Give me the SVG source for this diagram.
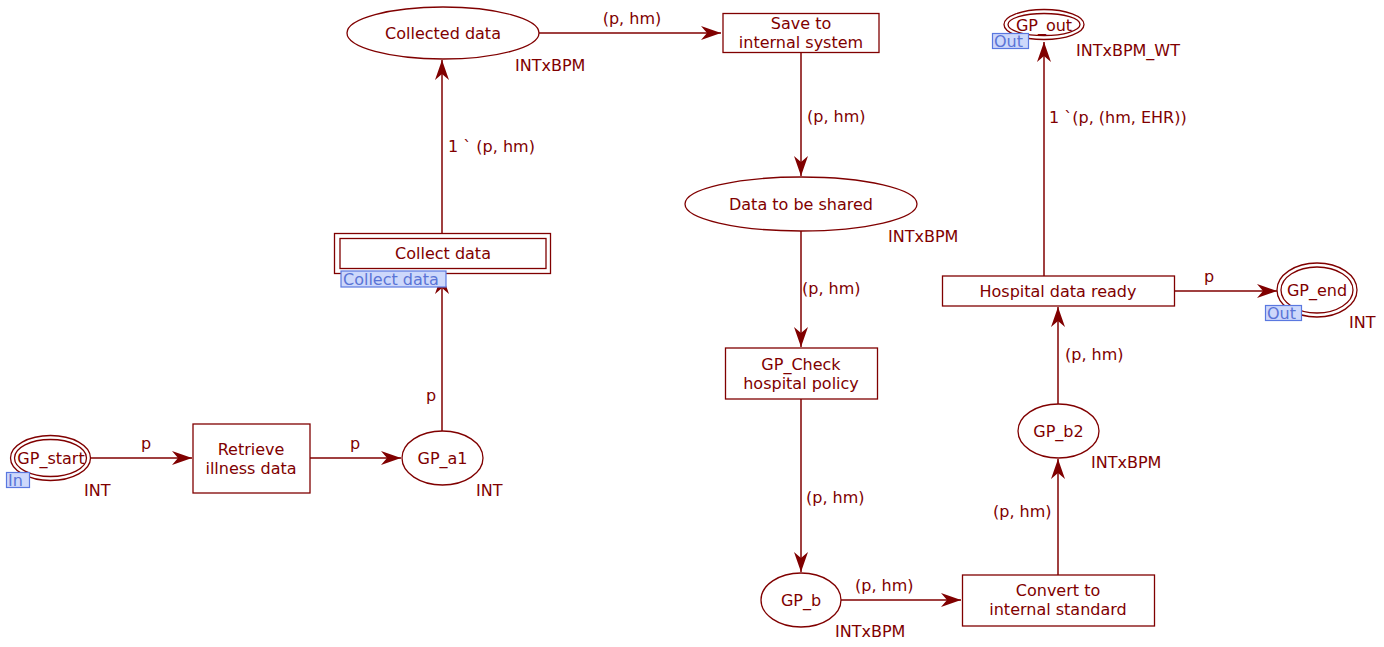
<svg xmlns="http://www.w3.org/2000/svg" width="1384" height="647" viewBox="0 0 1384 647">
<style>
text{font-family:"DejaVu Sans","Liberation Sans",sans-serif;font-size:16px;fill:#800000}
.c{text-anchor:middle}
.n{fill:#fff;stroke:#800000;stroke-width:1.3}
.a{fill:none;stroke:#800000;stroke-width:1.5}
.tag{fill:#cdd8fb;stroke:#5a78e0;stroke-width:1.2}
.tt{fill:#5a74d6}
</style>
<defs>
<marker id="ah" markerUnits="userSpaceOnUse" markerWidth="22" markerHeight="16" viewBox="0 -8 22 16" refX="20" refY="0" orient="auto">
<path d="M0,-7 L20,0 L0,7 L6,0 z" fill="#800000"/>
</marker>
</defs>
<rect width="1384" height="647" fill="#fff"/>
<g id="connectors">
<line class="a" x1="91" y1="458" x2="192" y2="458" marker-end="url(#ah)"/>
<text class="c" x="146" y="449">p</text>
<line class="a" x1="310" y1="458" x2="401" y2="458" marker-end="url(#ah)"/>
<text class="c" x="355" y="449">p</text>
<line class="a" x1="442" y1="431" x2="442" y2="274" marker-end="url(#ah)"/>
<text class="c" x="431" y="401">p</text>
<line class="a" x1="442" y1="233" x2="442" y2="60" marker-end="url(#ah)"/>
<text x="448" y="152">1 ` (p, hm)</text>
<line class="a" x1="539" y1="33" x2="721" y2="33" marker-end="url(#ah)"/>
<text class="c" x="632" y="24">(p, hm)</text>
<line class="a" x1="801" y1="52" x2="801" y2="176" marker-end="url(#ah)"/>
<text x="807" y="122">(p, hm)</text>
<line class="a" x1="801" y1="231" x2="801" y2="347" marker-end="url(#ah)"/>
<text x="802" y="294">(p, hm)</text>
<line class="a" x1="801" y1="399" x2="801" y2="572" marker-end="url(#ah)"/>
<text x="806" y="503">(p, hm)</text>
<line class="a" x1="841" y1="600" x2="961" y2="600" marker-end="url(#ah)"/>
<text x="855" y="591">(p, hm)</text>
<line class="a" x1="1058" y1="575" x2="1058" y2="459" marker-end="url(#ah)"/>
<text x="993" y="517">(p, hm)</text>
<line class="a" x1="1058" y1="404" x2="1058" y2="307" marker-end="url(#ah)"/>
<text x="1065" y="360">(p, hm)</text>
<line class="a" x1="1174" y1="291" x2="1277" y2="291" marker-end="url(#ah)"/>
<text class="c" x="1209" y="282">p</text>
<line class="a" x1="1044" y1="276" x2="1044" y2="42" marker-end="url(#ah)"/>
<text x="1049" y="123">1 `(p, (hm, EHR))</text>
</g>
<g id="GP_start">
<ellipse class="n" cx="50.5" cy="458" rx="40" ry="22.5"/>
<ellipse class="n" cx="50.5" cy="458" rx="36" ry="18.5"/>
<text class="c" x="51" y="464">GP_start</text>
<rect class="tag" x="6.5" y="472.5" width="23" height="15"/>
<text class="tt" x="8" y="486">In</text>
<text x="84" y="496">INT</text>
</g>
<g id="Retrieve">
<rect class="n" x="193" y="424" width="117" height="69"/>
<text class="c" x="251" y="455">Retrieve</text>
<text class="c" x="251" y="474">illness data</text>
</g>
<g id="GP_a1">
<ellipse class="n" cx="442.5" cy="458" rx="40.5" ry="27"/>
<text class="c" x="442.5" y="464">GP_a1</text>
<text x="476" y="496">INT</text>
</g>
<g id="Collect_data">
<rect class="n" x="334.5" y="233.5" width="216" height="40"/>
<rect class="n" x="340" y="238.5" width="206" height="30"/>
<text class="c" x="443" y="259">Collect data</text>
<rect class="tag" x="341" y="271" width="105" height="16"/>
<text class="tt" x="343" y="285">Collect data</text>
</g>
<g id="Collected_data">
<ellipse class="n" cx="443" cy="33" rx="96" ry="26"/>
<text class="c" x="443" y="39">Collected data</text>
<text x="515" y="71">INTxBPM</text>
</g>
<g id="Save">
<rect class="n" x="723" y="13.5" width="156" height="39"/>
<text class="c" x="801" y="29">Save to</text>
<text class="c" x="801" y="48">internal system</text>
</g>
<g id="Data_to_be_shared">
<ellipse class="n" cx="801" cy="204" rx="116" ry="27"/>
<text class="c" x="801" y="210">Data to be shared</text>
<text x="888" y="242">INTxBPM</text>
</g>
<g id="GP_Check">
<rect class="n" x="725.5" y="348" width="152" height="51"/>
<text class="c" x="801" y="370">GP_Check</text>
<text class="c" x="801" y="389">hospital policy</text>
</g>
<g id="GP_b">
<ellipse class="n" cx="801" cy="600" rx="40" ry="27"/>
<text class="c" x="801" y="606">GP_b</text>
<text x="835" y="637">INTxBPM</text>
</g>
<g id="Convert">
<rect class="n" x="962.5" y="575" width="192" height="51"/>
<text class="c" x="1058" y="596">Convert to</text>
<text class="c" x="1058" y="615">internal standard</text>
</g>
<g id="GP_b2">
<ellipse class="n" cx="1058.5" cy="431" rx="40.5" ry="27"/>
<text class="c" x="1058.5" y="437">GP_b2</text>
<text x="1091" y="468">INTxBPM</text>
</g>
<g id="Hospital_data_ready">
<rect class="n" x="942.5" y="276" width="232" height="30"/>
<text class="c" x="1058" y="297">Hospital data ready</text>
</g>
<g id="GP_end">
<ellipse class="n" cx="1317" cy="290" rx="40" ry="27"/>
<ellipse class="n" cx="1317" cy="290" rx="36" ry="23"/>
<text class="c" x="1317" y="296">GP_end</text>
<rect class="tag" x="1265.5" y="305.5" width="36" height="15"/>
<text class="tt" x="1267" y="319">Out</text>
<text x="1349" y="328">INT</text>
</g>
<g id="GP_out">
<ellipse class="n" cx="1044" cy="24.5" rx="40" ry="15"/>
<ellipse class="n" cx="1044" cy="24.5" rx="36" ry="11"/>
<text class="c" x="1044" y="30.5">GP_out</text>
<rect class="tag" x="992.5" y="33.5" width="36" height="15"/>
<text class="tt" x="994" y="47">Out</text>
<text x="1076" y="56">INTxBPM_WT</text>
</g>
</svg>
